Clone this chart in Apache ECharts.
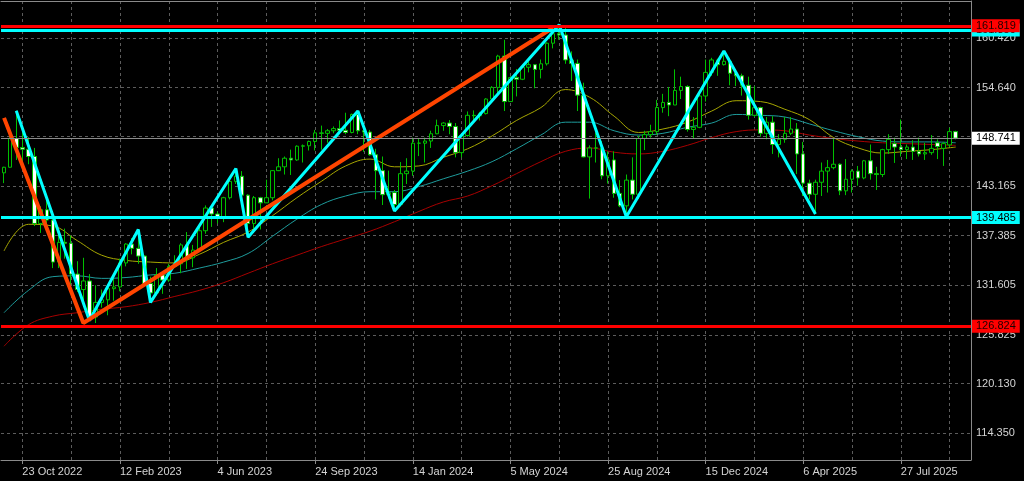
<!DOCTYPE html>
<html><head><meta charset="utf-8">
<script src="https://cdn.jsdelivr.net/npm/echarts@6/dist/echarts.min.js"></script>
<style>html,body{margin:0;padding:0;background:#000;overflow:hidden}#c{width:1024px;height:481px}</style>
</head><body><div id="c"></div>
<script>
// ---- weekly USDJPY-style candles, first week starting 2 Oct 2022 ----
const firstWeek = '2022-10-02';
const opens = [144.7,145.35,148.7,147.65,147.45,146.6,138.8,140.4,139.2,134.3,136.6,136.5,132.9,
131.1,132.1,127.9,129.6,129.9,131.2,131.4,134.2,136.4,135.9,135.0,131.8,130.7,132.8,132.2,133.8,134.1,136.3,134.8,135.7,137.95,140.6,139.9,139.4,141.8,143.7,144.3,142.1,138.8,141.8,141.2,141.8,144.95,145.4,146.4,146.2,147.8,147.85,148.35,149.35,149.3,149.6,149.85,149.65,149.4,151.5,149.6,149.45,146.8,144.95,142.15,142.4,
141.0,144.6,144.9,148.15,148.15,148.4,149.25,150.2,150.5,150.1,147.05,149.05,151.4,151.35,151.6,153.3,154.65,158.3,153.0,155.8,155.6,157.0,157.3,156.75,157.4,159.8,160.9,160.75,157.85,157.45,153.75,146.55,147.6,147.6,144.35,146.2,142.3,140.85,143.85,142.2,148.7,149.15,149.5,152.3,152.9,152.6,154.3,154.75,149.75,150.0,153.65,156.4,157.85,
157.3,157.7,156.3,156.0,154.9,151.4,152.3,149.3,150.6,148.0,148.6,149.3,149.8,146.9,143.5,142.2,143.6,144.9,145.3,145.7,142.6,143.95,144.9,144.1,146.1,144.6,144.5,147.4,148.1,147.7,147.4,147.7,147.2,146.9,147.05,148.2,147.55,147.95,149.5];
const highs = [145.4,148.86,151.94,149.7,148.85,147.6,140.8,142.25,139.9,137.85,138.2,137.4,134.4,
134.8,132.9,131.6,131.1,131.2,132.9,134.7,136.5,137.1,137.9,135.1,132.6,133.6,133.2,134.1,135.1,136.5,137.8,136.3,138.75,140.9,140.9,140.2,141.9,143.9,145.1,144.9,142.2,142.0,141.9,143.9,145.0,146.4,146.6,147.4,147.9,148.0,148.45,149.7,150.2,149.8,150.1,150.8,151.7,151.6,151.9,149.75,149.7,147.5,146.6,144.95,142.7,
145.95,146.4,148.8,148.7,148.8,149.6,150.9,150.6,150.85,150.5,149.2,151.85,151.97,151.8,153.4,154.8,158.45,160.2,155.95,156.8,157.2,157.7,157.3,157.9,159.9,161.3,161.95,161.8,158.85,157.9,155.2,147.9,149.4,148.4,147.2,147.2,143.85,144.5,146.5,149.0,149.6,150.3,153.2,153.9,154.7,156.75,155.9,154.9,151.2,153.9,157.9,158.1,158.0,
158.9,158.1,156.75,156.25,155.9,154.8,152.4,151.2,151.3,149.2,151.2,151.2,150.5,148.3,143.9,143.9,145.9,146.2,148.65,145.8,146.3,145.1,145.5,146.2,148.0,145.4,147.5,149.2,148.8,150.9,148.0,148.5,148.8,148.2,149.1,148.6,148.3,149.95,149.6];
const lows = [143.5,145.3,146.2,145.1,145.7,138.5,137.7,138.0,133.6,133.6,134.7,130.6,130.8,
129.5,127.5,127.2,129.0,128.1,129.8,130.9,133.8,135.2,134.1,131.6,129.6,130.4,130.6,132.0,133.6,133.0,133.5,133.7,135.6,137.6,138.4,138.8,138.95,141.6,143.4,142.1,137.2,138.2,138.1,141.2,141.5,144.9,144.5,144.45,146.1,145.9,147.3,147.3,147.4,148.2,149.3,149.6,149.2,149.3,149.2,147.15,146.7,141.6,140.95,141.7,140.25,
140.8,143.4,144.35,146.65,145.9,147.6,149.2,149.6,149.2,146.5,146.5,148.9,150.8,150.8,151.5,153.3,154.0,151.9,153.0,153.6,155.5,156.4,154.55,155.7,157.2,159.2,160.2,157.4,155.4,151.9,146.5,141.7,145.9,143.95,143.45,141.8,140.7,139.58,141.6,141.65,147.35,148.8,149.1,151.7,151.3,152.6,153.3,149.5,148.65,149.9,153.0,156.0,156.0,
157.2,154.9,154.8,153.7,150.9,151.2,148.9,148.6,146.9,146.5,148.2,149.1,144.55,142.0,141.6,139.9,142.0,142.4,145.1,142.1,142.1,142.4,143.2,143.95,143.9,142.7,144.2,146.9,145.85,146.6,146.3,146.2,146.6,146.2,146.8,146.3,145.5,147.7,148.6];
const closes = [145.35,148.7,147.65,147.45,146.6,138.8,140.4,139.2,134.3,136.6,136.5,132.9,131.1,
132.1,127.9,129.6,129.9,131.2,131.4,134.2,136.4,135.9,135.0,131.8,130.7,132.8,132.2,133.8,134.1,136.3,134.8,135.7,137.95,140.6,139.9,139.4,141.8,143.7,144.3,142.1,138.8,141.8,141.2,141.8,144.95,145.4,146.4,146.2,147.8,147.85,148.35,149.35,149.3,149.6,149.85,149.65,149.4,151.5,149.6,149.45,146.8,144.95,142.15,142.4,141.0,
144.6,144.9,148.15,148.15,148.4,149.25,150.2,150.5,150.1,147.05,149.05,151.4,151.35,151.6,153.3,154.65,158.3,153.0,155.8,155.6,157.0,157.3,156.75,157.4,159.8,160.9,160.75,157.85,157.45,153.75,146.55,147.6,147.6,144.35,146.2,142.3,140.85,143.85,142.2,148.7,149.15,149.5,152.3,152.9,152.6,154.3,154.75,149.75,150.0,153.65,156.4,157.85,157.3,
157.7,156.3,156.0,154.9,151.4,152.3,149.3,150.6,148.0,148.6,149.3,149.8,146.9,143.5,142.2,143.6,144.9,145.3,145.7,142.6,143.95,144.9,144.1,146.1,144.6,144.5,147.4,148.6,147.7,147.4,147.7,147.2,146.9,147.05,147.55,147.75,148.1,149.5,148.74];

// moving averages, every 4th week
const maIdx  = [0,4,8,12,16,20,24,28,32,36,40,44,48,52,56,60,64,68,72,76,80,84,88,92,96,100,104,108,112,116,120,124,128,132,136,140,144,148,152,156];
const maFast = [135.6,138.7,138.5,136.8,135.1,134.5,134.3,134.2,135.2,136.6,137.8,139.7,141.8,143.7,145.5,146.3,145.4,145.5,146.5,147.5,149.0,150.8,152.3,154.4,153.5,151.3,149.4,149.8,150.6,151.9,153.1,153.0,152.1,150.9,148.8,147.6,147.0,147.2,147.4,147.7];
const maMid  = [128.4,131.0,132.6,132.7,132.4,132.5,132.8,133.0,133.6,134.3,135.3,137.3,139.3,141.0,142.0,142.5,142.5,143.1,144.0,144.9,146.0,147.5,149.1,150.6,150.6,149.6,149.1,149.3,150.0,150.5,151.5,151.4,151.2,150.4,149.6,148.9,148.4,148.3,148.3,148.2];
const maSlow = [124.5,127.0,128.0,128.4,128.8,129.1,129.6,130.3,131.0,131.9,133.0,134.1,135.1,136.1,137.0,137.9,139.0,140.2,141.3,142.0,143.2,144.6,146.0,147.2,147.6,147.1,146.9,147.2,147.9,148.8,149.5,149.7,149.6,149.1,148.7,148.4,148.2,148.1,148.0,147.9];

// zigzag turning points (week index, price)
const cyanZigIdx = [2,14,22,24,38,40,58,64,91,102,118,133];
const cyanZigVal = [151.94,127.5,138.1,129.6,145.2,137.2,151.9,140.25,161.95,139.58,158.9,139.9];
const orangeZigIdx = [0,13,90];
const orangeZigVal = [151.1,127.2,161.6];

// horizontal levels
const redLevels = [161.819,126.824];
const cyanLevels = [161.35,139.485];
const lastPrice = 148.741;

// axis tick labels
const yTicks = [114.350,120.130,125.825,131.605,137.385,143.165,148.945,154.640,160.420];
const yLabels = [114.350,120.130,125.825,131.605,137.385,143.165,154.640,160.420];
const extraSlots = 2;

// ---- build ----
const MON = ['Jan','Feb','Mar','Apr','May','Jun','Jul','Aug','Sep','Oct','Nov','Dec'];
const t0 = Date.parse(firstWeek + 'T00:00:00Z');
const cats = [];
for (let i = 0; i < opens.length + extraSlots; i++) {
  if (i >= opens.length) { cats.push(''); continue; }
  const d = new Date(t0 + i * 7 * 86400000);
  cats.push(d.getUTCDate() + ' ' + MON[d.getUTCMonth()] + ' ' + d.getUTCFullYear());
}
const candles = opens.map((o, i) => [o, closes[i], lows[i], highs[i]]);
const pairs = (idx, val) => idx.map((k, j) => [k, val[j]]);

const FONT = 'Liberation Sans';
const lblCol = '#d4d4d4';
const gridCol = '#5c5c5c';
const frameCol = '#8a8a8a';

function levelLine(v, col, txtCol, width) {
  return {
    yAxis: v,
    lineStyle: { color: col, width: width, type: 'solid' },
    label: {
      show: true, position: 'end', distance: 1,
      formatter: () => v.toFixed(3),
      backgroundColor: col, color: txtCol,
      fontFamily: FONT, fontSize: 11, lineHeight: 12,
      padding: [1, 4, 0, 4]
    }
  };
}

const chart = echarts.init(document.getElementById('c'), null, { renderer: 'canvas' });
chart.setOption({
  animation: false,
  backgroundColor: '#000000',
  grid: { left: 1, right: 53, top: 1, bottom: 21, show: false },
  xAxis: [{
    type: 'category', data: cats, boundaryGap: true,
    axisLine: { show: true, lineStyle: { color: frameCol, width: 1 } },
    axisTick: { show: true, alignWithLabel: true, length: 4, lineStyle: { color: frameCol },
      interval: (i) => i >= 3 && (i - 3) % 16 === 0 },
    axisLabel: { show: true, color: lblCol, fontFamily: FONT, fontSize: 11, align: 'left', margin: 6,
      interval: (i) => i >= 3 && (i - 3) % 16 === 0 },
    splitLine: { show: true, alignWithLabel: true, interval: (i) => i >= 3 && (i - 3) % 8 === 0,
      lineStyle: { color: gridCol, type: [3, 3], width: 1 } }
  }, {
    type: 'category', data: cats, position: 'top', boundaryGap: true,
    axisLine: { show: true, lineStyle: { color: frameCol, width: 1 } },
    axisTick: { show: false }, axisLabel: { show: false }, splitLine: { show: false }
  }],
  yAxis: {
    type: 'value', position: 'right', min: 111.24, max: 164.718, scale: true,
    axisLine: { show: true, lineStyle: { color: frameCol, width: 1 } },
    axisTick: { show: false, customValues: yTicks },
    axisLabel: { show: true, customValues: yLabels, color: lblCol, fontFamily: FONT, fontSize: 11,
      margin: 5, formatter: (v) => v.toFixed(3) },
    splitLine: { show: true, lineStyle: { color: gridCol, type: [3, 3], width: 1 } }
  },
  series: [
    { type: 'line', name: 'slow', data: pairs(maIdx, maSlow), smooth: 0.4, showSymbol: false, z: 1,
      lineStyle: { color: '#a80000', width: 1 } },
    { type: 'line', name: 'mid', data: pairs(maIdx, maMid), smooth: 0.4, showSymbol: false, z: 1,
      lineStyle: { color: '#1e9c9c', width: 1 } },
    { type: 'line', name: 'fast', data: pairs(maIdx, maFast), smooth: 0.4, showSymbol: false, z: 1,
      lineStyle: { color: '#a6a600', width: 1 } },
    { type: 'candlestick', data: candles, barWidth: 4, z: 2,
      itemStyle: { color: '#000000', color0: '#ffffff', borderColor: '#00c000', borderColor0: '#00c000', borderWidth: 1 } },
    { type: 'line', name: 'zzCyan', data: pairs(cyanZigIdx, cyanZigVal), showSymbol: false, z: 3,
      lineStyle: { color: '#00ffff', width: 3 } },
    { type: 'line', name: 'zzOrange', data: pairs(orangeZigIdx, orangeZigVal), showSymbol: false, z: 4,
      lineStyle: { color: '#ff4500', width: 4 } },
    { type: 'line', name: 'levels', data: [], z: 5,
      markLine: { silent: true, symbol: ['none', 'none'], animation: false,
        data: [
          levelLine(lastPrice, '#ffffff', '#000000', 1),
          levelLine(cyanLevels[0], '#00ffff', '#000000', 3),
          levelLine(redLevels[0], '#ff0000', '#200000', 3),
          levelLine(cyanLevels[1], '#00ffff', '#000000', 3),
          levelLine(redLevels[1], '#ff0000', '#200000', 3)
        ] } }
  ]
});
// gray colour for the last-price line itself (label stays white)
const opt = chart.getOption();
opt.series[6].markLine.data[0].lineStyle.color = '#8c8c8c';
chart.setOption({ series: opt.series });
</script>
</body></html>
